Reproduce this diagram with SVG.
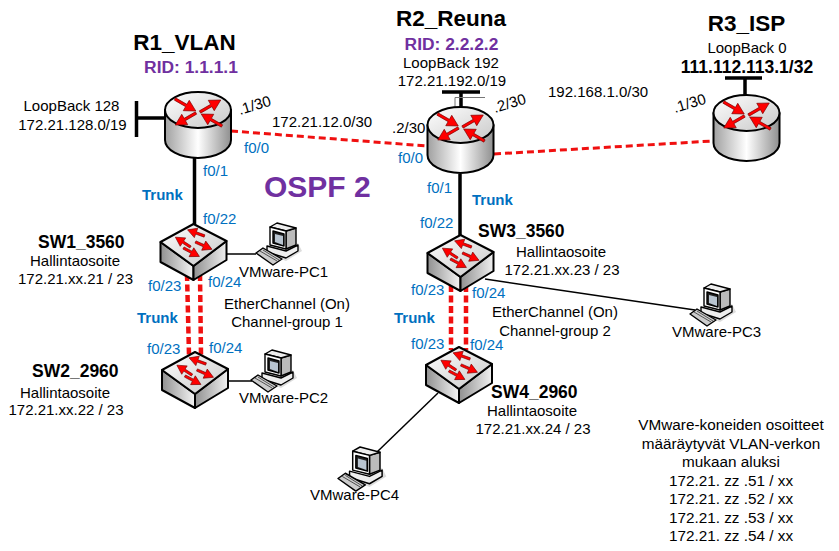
<svg xmlns="http://www.w3.org/2000/svg" xmlns:xlink="http://www.w3.org/1999/xlink" width="839" height="551" viewBox="0 0 839 551">
<style>
text{font-family:"Liberation Sans",Arial,sans-serif;font-size:15px;fill:#000}
.m{text-anchor:middle}
.t{font-size:22.5px;font-weight:bold}
.s{font-size:17.5px;font-weight:bold}
.r{font-size:17.4px;font-weight:bold;fill:#7030A0}
.p{font-size:15px;fill:#0070C0}
.k{font-weight:bold;fill:#0070C0}
.n{font-size:15.3px}
.bk{stroke:#000;stroke-width:3.500;fill:none}
.red{stroke:#f01010;stroke-width:3;stroke-dasharray:7 4;fill:none}
.ec{stroke:#f01010;stroke-width:4.500;stroke-dasharray:7 3.500;fill:none}
.th{stroke:#000;stroke-width:1.500;fill:none}
.ol{stroke:#000;stroke-width:2;stroke-linejoin:round}
.ra{fill:#f00;stroke:#700;stroke-width:.6}
</style>
<defs>
<linearGradient id="cyl"><stop offset="0" stop-color="#a0a0a0"/><stop offset=".5" stop-color="#fff"/><stop offset="1" stop-color="#8f8f8f"/></linearGradient>
<linearGradient id="top" x1="0" y1="0" x2="1" y2="1"><stop offset="0" stop-color="#fff"/><stop offset="1" stop-color="#c8c8c8"/></linearGradient>
<linearGradient id="lf"><stop offset="0" stop-color="#909090"/><stop offset="1" stop-color="#f5f5f5"/></linearGradient>
<linearGradient id="rf"><stop offset="0" stop-color="#909090"/><stop offset="1" stop-color="#f0f0f0"/></linearGradient>
<path id="a" class="ra" d="M0-1.300H13V-6L24 0 13 6V1.300H0Z"/>
<path id="sa" class="ra" d="M0-1.200H9V-5L18 0 9 5V1.200H0Z"/>
<g id="router">
<path class="ol" fill="url(#cyl)" d="M-33 18V48A33 18 0 0 0 33 48V18Z"/>
<ellipse class="ol" cx="0" cy="18" rx="33" ry="18" fill="url(#top)"/>
<use xlink:href="#a" transform="translate(-23 7) rotate(30)"/>
<use xlink:href="#a" transform="translate(2 20) rotate(-30)"/>
<use xlink:href="#a" transform="translate(-2 21) rotate(150)"/>
<use xlink:href="#a" transform="translate(24 34) rotate(210)"/>
</g>
<g id="switch">
<path class="ol" fill="url(#lf)" d="M-33 18V38L0 56V42Z"/>
<path class="ol" fill="url(#rf)" d="M33 17V36L0 56V42Z"/>
<path class="ol" fill="url(#top)" d="M0 0L33 17 0 42-33 18Z"/>
<use xlink:href="#sa" transform="translate(11 12) rotate(200)"/>
<use xlink:href="#sa" transform="translate(-3 23) rotate(213)"/>
<use xlink:href="#sa" transform="translate(2 18) rotate(24)"/>
<use xlink:href="#sa" transform="translate(-10 24) rotate(28)"/>
</g>
<g id="pc" stroke="#000" stroke-width="1.400" stroke-linejoin="round">
<path fill="#ddd" stroke="none" d="M10 30L30 38 46 28 42 20Z"/>
<path fill="#eee" d="M11 23L30 28 42 22V28L30 35 11 29Z"/>
<path fill="#bbb" d="M30 8L40 5V22L30 26Z"/>
<path fill="#eee" d="M14 4L21 0 40 5 30 8Z"/>
<path fill="#fff" d="M14 4L30 8V26L14 22Z"/>
<path fill="#222" d="M17 8L28 11V23L17 20Z"/>
<path fill="#b8c4d0" stroke="none" d="M19 11L27 13V22L19 19Z"/>
<path fill="#ccc" d="M0 30L7 25 26 36 17 42Z"/>
<path fill="none" stroke-width=".6" d="M4 28L21 38M7 27L23 37"/>
</g>
</defs>
<rect width="839" height="551" fill="#fff"/>

<g id="connectors">
<path class="bk" d="M136.500 101V137M136.500 118H165"/>
<path class="bk" d="M194.500 158V226"/>
<path class="bk" d="M442 92H480M461 92V107"/>
<path d="M455 107V97.500H485" stroke="#777" stroke-width="1" fill="none"/>
<path class="bk" d="M725 78H762M745 78V95"/>
<path class="bk" d="M460 174V236"/>
<path class="red" d="M231 131L427 146"/>
<path class="red" d="M494 154L713 141"/>
<path class="ec" d="M187 274L189 355M200 274L201 355"/>
<path class="ec" d="M451 285V350M466 285V350"/>
<path class="th" d="M225 254H256"/>
<path class="th" d="M228 381H252"/>
<path class="th" d="M485 279L695 310"/>
<path class="th" d="M438 393L377 452"/>
</g>

<g id="R1_VLAN"><use xlink:href="#router" x="198" y="92"/>
<text class="t m" x="184.500" y="50">R1_VLAN</text>
<text class="r m" x="191" y="73">RID: 1.1.1.1</text>
<text class="m" x="71.500" y="111">LoopBack 128</text>
<text class="m" x="72.500" y="130">172.21.128.0/19</text></g>

<g id="R2_Reuna"><use xlink:href="#router" x="460.500" y="107"/>
<text class="t m" x="451" y="26">R2_Reuna</text>
<text class="r m" x="451.500" y="50">RID: 2.2.2.2</text>
<text class="m" x="451" y="68">LoopBack 192</text>
<text class="m" x="452" y="86">172.21.192.0/19</text></g>

<g id="R3_ISP"><use xlink:href="#router" x="746.500" y="95"/>
<text class="t m" x="746.500" y="31">R3_ISP</text>
<text class="m" x="747" y="53">LoopBack 0</text>
<text class="s m" x="747" y="73">111.112.113.1/32</text></g>

<g id="SW1_3560"><use xlink:href="#switch" x="193.500" y="224"/>
<text class="s" x="38" y="248">SW1_3560</text>
<text class="m" x="75" y="266">Hallintaosoite</text>
<text class="m" x="75.500" y="284">172.21.xx.21 / 23</text></g>

<g id="SW2_2960"><use xlink:href="#switch" x="195" y="352"/>
<text class="s" x="32" y="377">SW2_2960</text>
<text class="m" x="65" y="398">Hallintaosoite</text>
<text class="m" x="66" y="415">172.21.xx.22 / 23</text></g>

<g id="SW3_3560"><use xlink:href="#switch" x="460.500" y="235"/>
<text class="s" x="478" y="237">SW3_3560</text>
<text class="m" x="561" y="257">Hallintaosoite</text>
<text class="m" x="562" y="275">172.21.xx.23 / 23</text></g>

<g id="SW4_2960"><use xlink:href="#switch" x="459" y="347"/>
<text class="s" x="491" y="398">SW4_2960</text>
<text class="m" x="532" y="416">Hallintaosoite</text>
<text class="m" x="533" y="434">172.21.xx.24 / 23</text></g>

<g id="VMware-PC1"><use xlink:href="#pc" x="256" y="223"/><text x="239" y="277">VMware-PC1</text></g>
<g id="VMware-PC2"><use xlink:href="#pc" x="251" y="350"/><text x="239" y="403">VMware-PC2</text></g>
<g id="VMware-PC3"><use xlink:href="#pc" x="690" y="284"/><text x="672" y="337">VMware-PC3</text></g>
<g id="VMware-PC4"><use xlink:href="#pc" transform="translate(338 447) scale(1.05)"/><text x="310" y="500">VMware-PC4</text></g>

<g id="labels">
<text class="k" x="142" y="200">Trunk</text>
<text class="k" x="472" y="205">Trunk</text>
<text class="k" x="137" y="323">Trunk</text>
<text class="k" x="394" y="323">Trunk</text>
<text class="p" x="203" y="176">f0/1</text>
<text class="p" x="203" y="224">f0/22</text>
<text class="p" x="244" y="153">f0/0</text>
<text class="p" x="398" y="163">f0/0</text>
<text class="p" x="427" y="193">f0/1</text>
<text class="p" x="420" y="228">f0/22</text>
<text class="p" x="148" y="291">f0/23</text>
<text class="p" x="208" y="287">f0/24</text>
<text class="p" x="147" y="354">f0/23</text>
<text class="p" x="209" y="353">f0/24</text>
<text class="p" x="411" y="295">f0/23</text>
<text class="p" x="472" y="298">f0/24</text>
<text class="p" x="411" y="349">f0/23</text>
<text class="p" x="470" y="350">f0/24</text>
<text transform="translate(240 115) rotate(-17)">.1/30</text>
<text transform="translate(495 113) rotate(-17)">.2/30</text>
<text transform="translate(675 113) rotate(-17)">.1/30</text>
<text x="392" y="133">.2/30</text>
<text x="272" y="127">172.21.12.0/30</text>
<text x="548" y="97">192.168.1.0/30</text>
<text x="264" y="197" style="font-size:30px;font-weight:bold;fill:#7030A0">OSPF 2</text>
<text class="m" x="287" y="309">EtherChannel (On)</text>
<text class="m" x="287" y="327">Channel-group 1</text>
<text class="m" x="555" y="317">EtherChannel (On)</text>
<text class="m" x="555" y="336">Channel-group 2</text>
<text class="m n" x="731" y="430">VMware-koneiden osoitteet</text>
<text class="m n" x="731" y="449">määräytyvät VLAN-verkon</text>
<text class="m n" x="731" y="467">mukaan aluksi</text>
<text class="m n" x="731" y="486">172.21. zz .51 / xx</text>
<text class="m n" x="731" y="504">172.21. zz .52 / xx</text>
<text class="m n" x="731" y="523">172.21. zz .53 / xx</text>
<text class="m n" x="731" y="541">172.21. zz .54 / xx</text>
</g>
</svg>
